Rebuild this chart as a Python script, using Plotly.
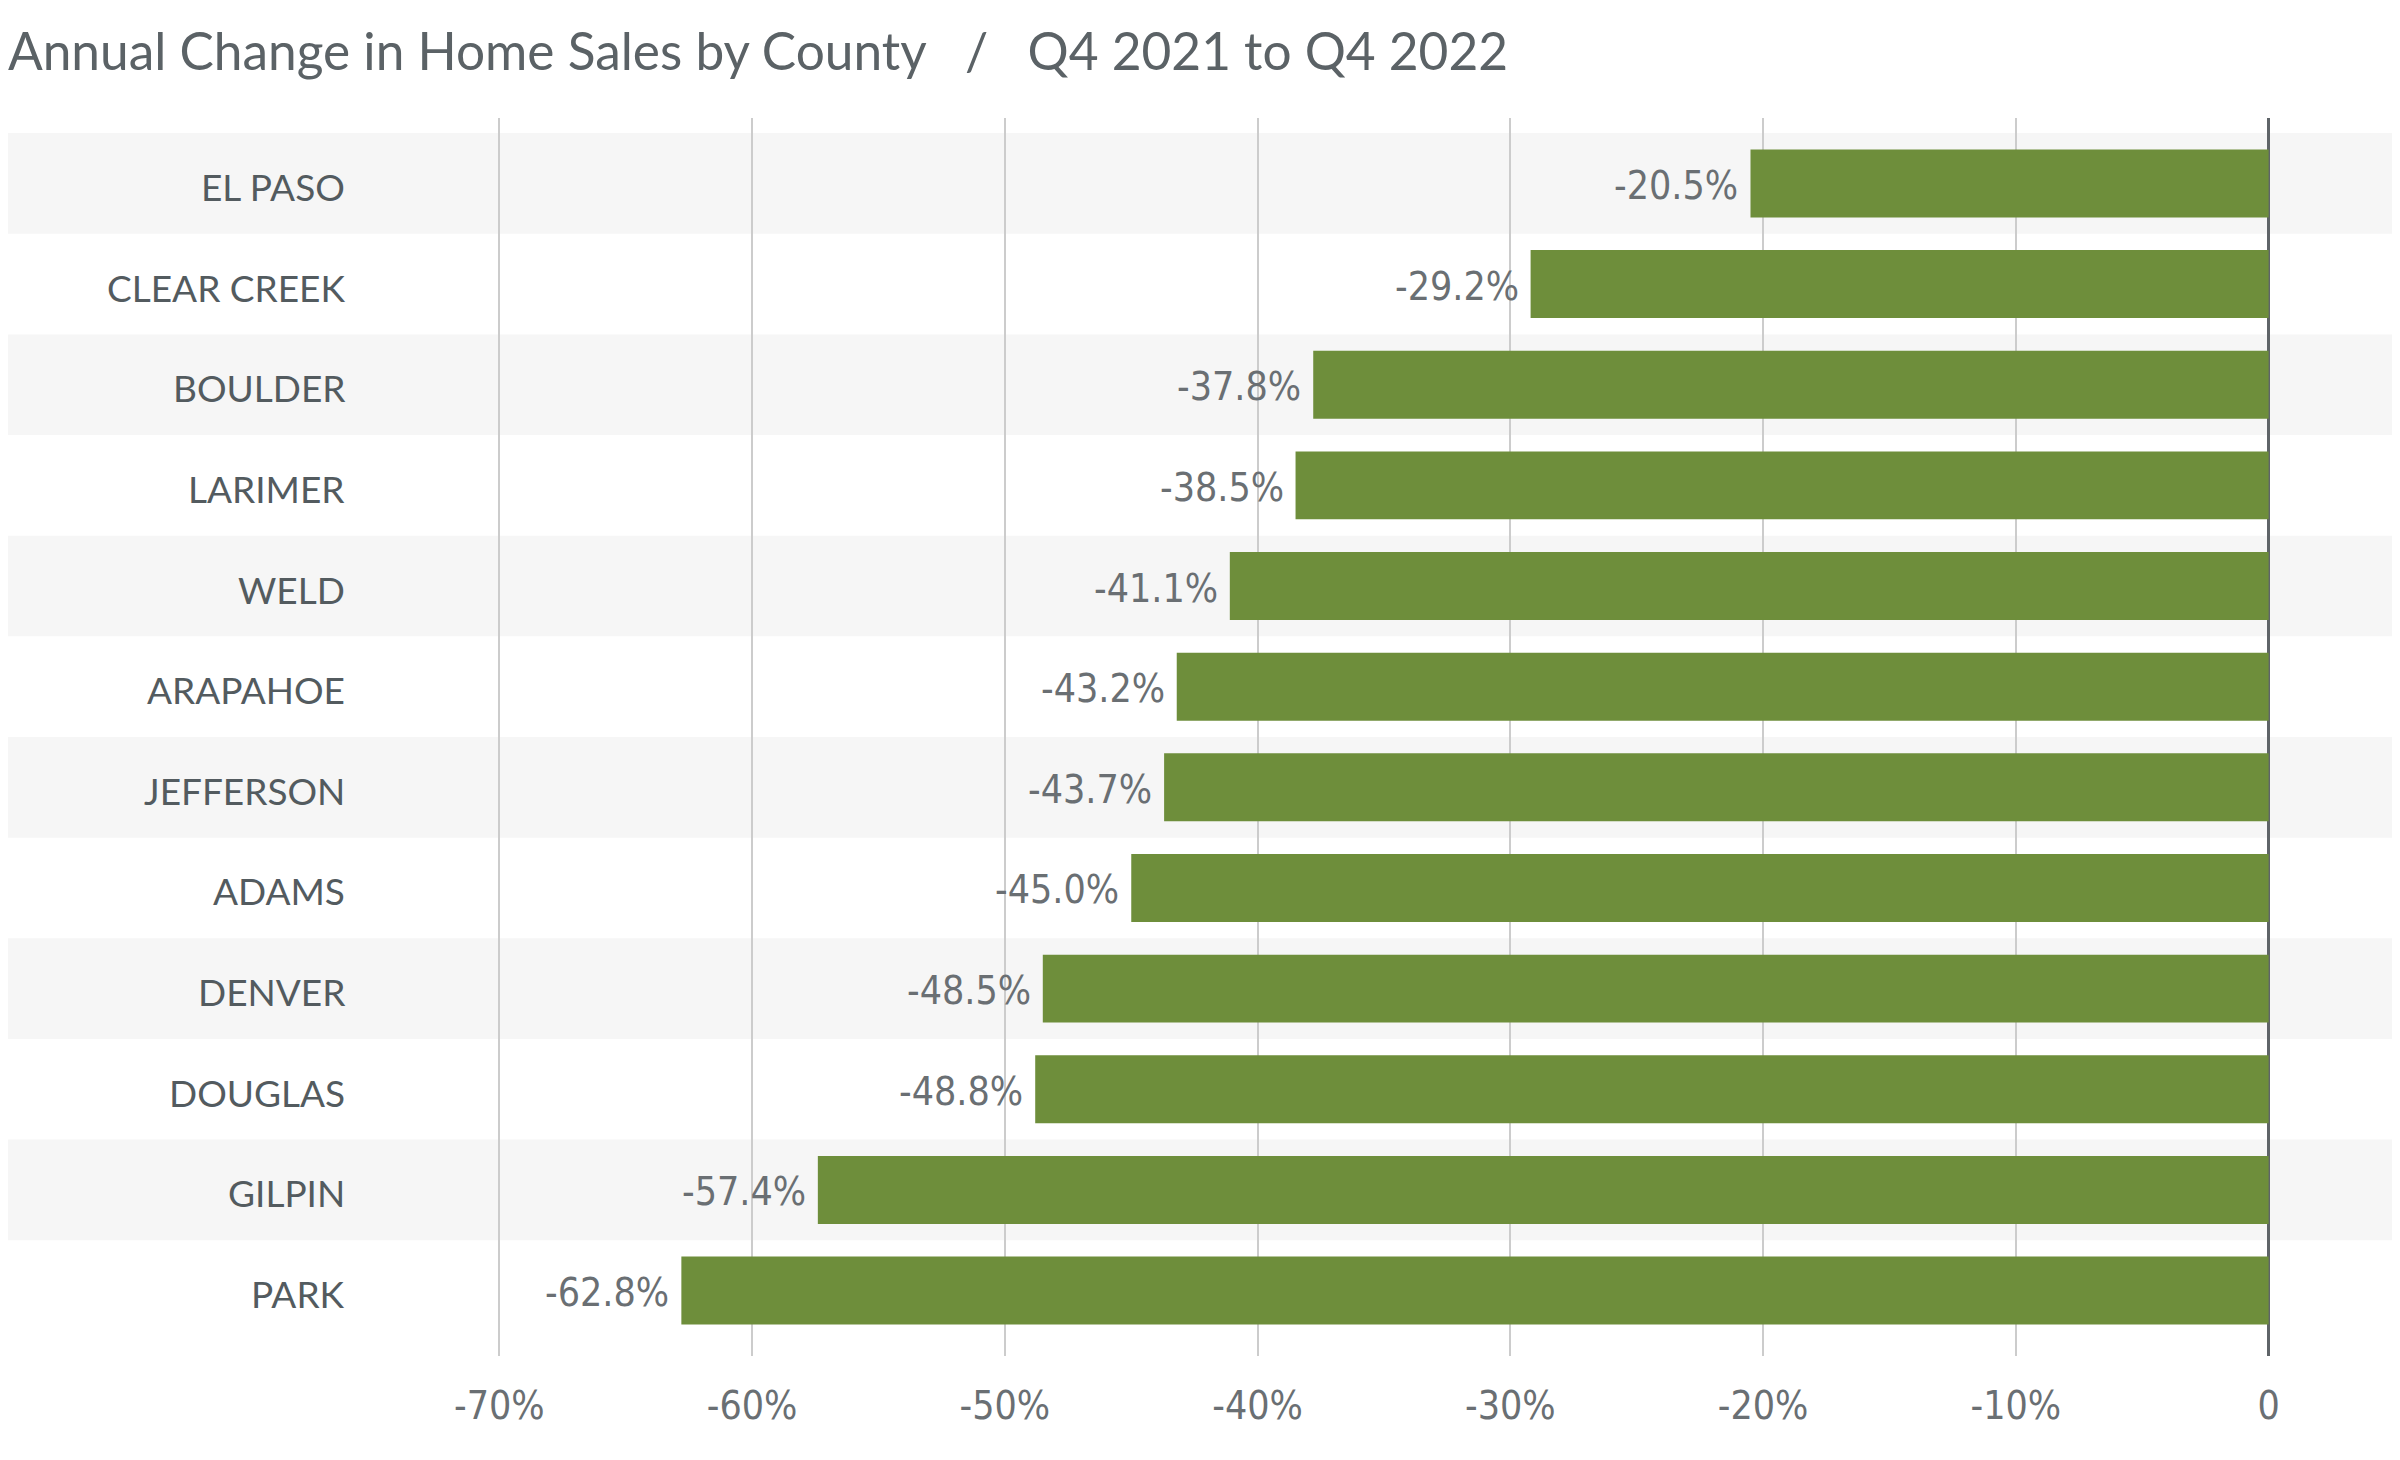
import plotly.graph_objects as go

counties = ["EL PASO", "CLEAR CREEK", "BOULDER", "LARIMER", "WELD", "ARAPAHOE",
            "JEFFERSON", "ADAMS", "DENVER", "DOUGLAS", "GILPIN", "PARK"]
changes = [-20.5, -29.2, -37.8, -38.5, -41.1, -43.2, -43.7, -45.0, -48.5, -48.8, -57.4, -62.8]
tick_values = [-70, -60, -50, -40, -30, -20, -10, 0]
tick_labels = ["-70%", "-60%", "-50%", "-40%", "-30%", "-20%", "-10%", "0"]
title_text = "Annual Change in Home Sales by County\u00a0\u00a0\u00a0/\u00a0\u00a0\u00a0Q4 2021 to Q4 2022"

BAR_COLOR = "#6e8e3b"
TEXT_GRAY = "#6a6f73"
LABEL_GRAY = "#535b5f"
NARROW = "DejaVu Sans Condensed, sans-serif"

fig = go.Figure()
fig.add_trace(go.Bar(
    x=changes, y=counties, orientation="h",
    marker=dict(color=BAR_COLOR, line=dict(width=0)),
    hoverinfo="skip",
))

# value labels
for c, v in zip(counties, changes):
    fig.add_annotation(
        x=v, y=c, xref="x", yref="y", text=f"{v:.1f}%", showarrow=False,
        xanchor="right", yanchor="middle", xshift=-10, yshift=-2,
        font=dict(family=NARROW, size=39, color=TEXT_GRAY),
    )

# category labels
for c in counties:
    fig.add_annotation(
        x=-0.0128, y=c, xref="paper", yref="y", text=c, showarrow=False,
        xanchor="right", yanchor="middle", yshift=-3,
        font=dict(family="Lato, sans-serif", size=37, color=LABEL_GRAY),
    )

# alternating background bands
shapes = []
for i in range(0, len(counties), 2):
    shapes.append(dict(
        type="rect", xref="paper", yref="y", x0=-0.1805, x1=1.0005,
        y0=i - 0.5, y1=i + 0.5, fillcolor="#f6f6f6", line=dict(width=0), layer="below",
    ))

fig.update_layout(
    width=2400, height=1460,
    margin=dict(l=365, r=13, t=110, b=112),
    paper_bgcolor="white", plot_bgcolor="rgba(0,0,0,0)",
    shapes=shapes,
    bargap=0.325,
    showlegend=False,
    title=dict(
        text=title_text, x=0, xref="container", xanchor="left",
        y=1 - 44 / 1460, yref="container", yanchor="middle",
        pad=dict(l=0, r=0, t=0, b=0),
        font=dict(family="Lato, sans-serif", size=51.4, color="#5b6266"),
    ),
    xaxis=dict(
        range=[-75, 5], tickvals=tick_values, ticktext=tick_labels,
        showgrid=True, gridcolor="#cccccc", gridwidth=1.5,
        zeroline=True, zerolinecolor="#5f6468", zerolinewidth=3,
        showline=False, ticks="",
        tickfont=dict(family=NARROW, size=39, color=TEXT_GRAY),
        ticklabelstandoff=23,
    ),
    yaxis=dict(
        categoryorder="array", categoryarray=counties,
        range=[11.65, -0.65], showgrid=False, zeroline=False, showline=False, ticks="",
        showticklabels=False,
    ),
)

fig.write_html("out.html")
